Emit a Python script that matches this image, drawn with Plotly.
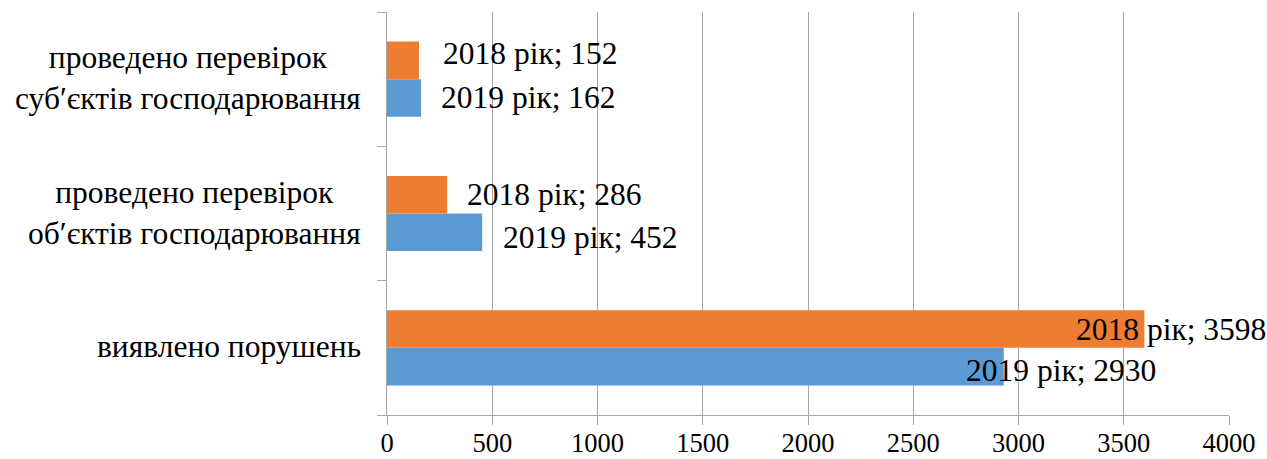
import plotly.graph_objects as go

categories = [
    "виявлено порушень",
    "проведено перевірок<br>об′єктів господарювання",
    "проведено перевірок<br>суб′єктів господарювання",
]
series_names = ["2019 рік", "2018 рік"]
values_2019 = [2930, 452, 162]
values_2018 = [3598, 286, 152]
x_ticks = [0, 500, 1000, 1500, 2000, 2500, 3000, 3500, 4000]

colors = {"2019 рік": "#5B9BD5", "2018 рік": "#ED7D31"}
FONT = "Liberation Serif"
GRID = "#A6A6A6"
LABEL_SIZE = 31.5
CAT_SIZE = 31.5

fig = go.Figure()
for name, vals in zip(series_names, [values_2019, values_2018]):
    fig.add_trace(go.Bar(
        y=categories, x=vals, orientation="h", name=name,
        marker=dict(color=colors[name], line=dict(width=0)),
        hoverinfo="skip",
    ))

# label placement tweaks (pixels), per series then category
label_xshift = {"2019 рік": [-40, 19, 18], "2018 рік": [-70, 18, 22]}
label_yshift = {"2019 рік": [-4, -5, 0], "2018 рік": [0, 0, 7]}
bar_offset = {"2019 рік": -0.14, "2018 рік": 0.14}

annotations = []
for name, vals in zip(series_names, [values_2019, values_2018]):
    for i, v in enumerate(vals):
        annotations.append(dict(
            x=v, y=i + bar_offset[name], xref="x", yref="y",
            text=f"{name}; {v}", showarrow=False,
            xanchor="left", yanchor="middle",
            xshift=label_xshift[name][i], yshift=label_yshift[name][i],
            font=dict(family=FONT, size=LABEL_SIZE, color="black"),
        ))
for i, c in enumerate(categories):
    annotations.append(dict(
        x=0, y=i, xref="paper", yref="y", text=c, showarrow=False,
        xanchor="right", yanchor="middle", align="center",
        xshift=-24, yshift=1,
        font=dict(family=FONT, size=CAT_SIZE, color="black"),
    ))

fig.update_layout(
    width=1267, height=459,
    margin=dict(l=387, r=38, t=12, b=44, autoexpand=False),
    paper_bgcolor="white", plot_bgcolor="white",
    barmode="group", bargap=0.44, bargroupgap=0,
    showlegend=False,
    annotations=annotations,
    font=dict(family=FONT, color="black"),
)
fig.update_xaxes(
    range=[0, 4000], tickvals=x_ticks, ticktext=[str(t) for t in x_ticks],
    showgrid=True, gridcolor=GRID, gridwidth=1.3,
    showline=True, linecolor=GRID, linewidth=1.3,
    ticks="outside", ticklen=9, tickcolor=GRID, tickwidth=1.3,
    tickfont=dict(family=FONT, size=26.5, color="black"),
    ticklabelstandoff=-5,
    zeroline=False, fixedrange=True, automargin=False,
)
fig.update_yaxes(
    type="category", range=[-0.5, 2.5],
    showticklabels=False, showgrid=False,
    showline=True, linecolor=GRID, linewidth=1.3,
    ticks="outside", ticklen=9, tickcolor=GRID, tickwidth=1.3,
    tickson="boundaries", zeroline=False, fixedrange=True, automargin=False,
)

fig.write_html(
    "out.html",
    config={"displayModeBar": False},
    post_script="document.body.style.margin='0';document.body.style.overflow='hidden';",
)
